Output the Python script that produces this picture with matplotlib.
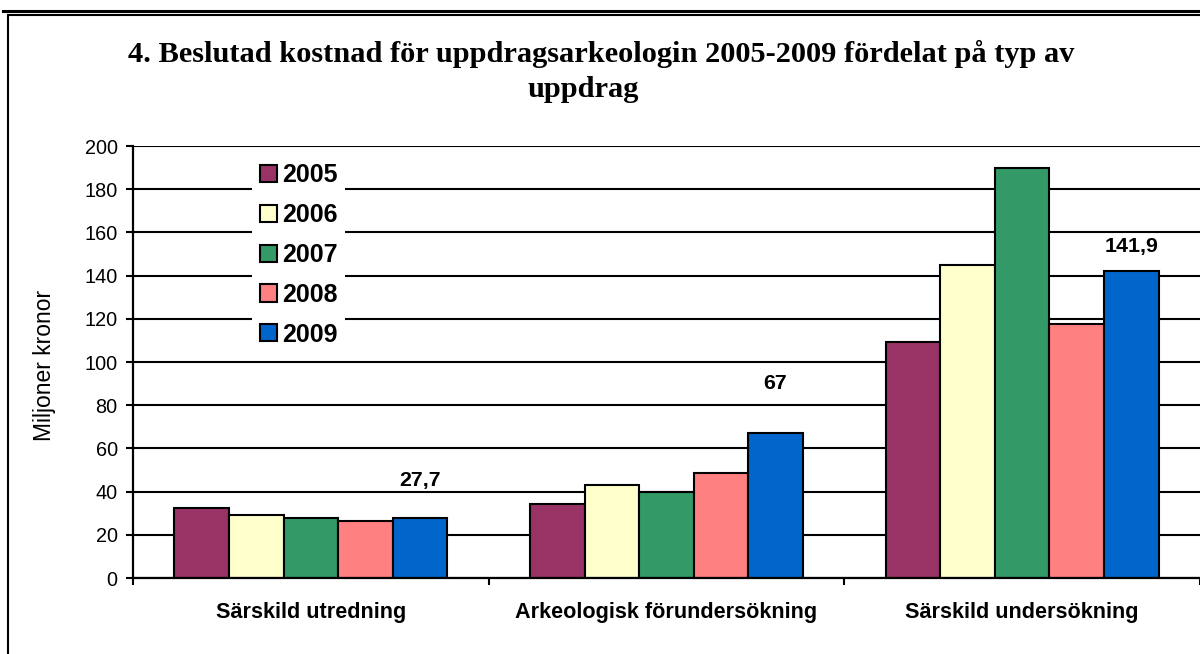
import matplotlib
matplotlib.use("Agg")
import matplotlib.pyplot as plt
from matplotlib.lines import Line2D
import numpy as np

# Data
categories = ["Särskild utredning", "Arkeologisk förundersökning", "Särskild undersökning"]
years = ["2005", "2006", "2007", "2008", "2009"]
v2005 = [32.3, 34.1, 109.1]
v2006 = [29.2, 43.0, 145.0]
v2007 = [27.8, 40.0, 190.0]
v2008 = [26.6, 48.5, 117.4]
v2009 = [27.7, 67.0, 141.9]
label_texts = ["27,7", "67", "141,9"]  # labels on the 2009 bars

title_lines = ["4. Beslutad kostnad för uppdragsarkeologin 2005-2009 fördelat på typ av",
               "uppdrag"]
ylabel = "Miljoner kronor"

colors = ["#993366", "#FFFFCC", "#339966", "#FF8080", "#0066CC"]
label_offsets = [27, 36, 18]  # points above the bar top

sans = ["Liberation Sans", "DejaVu Sans"]
serif = ["Liberation Serif", "DejaVu Serif"]

fig = plt.figure(figsize=(12, 6.54), dpi=100)
ax = fig.add_axes([133 / 1200, 1 - 578 / 654, 1 - 133 / 1200, (578 - 146) / 654])

series = [v2005, v2006, v2007, v2008, v2009]
n = len(series)
bw = 0.767 / n
x = np.arange(len(categories))
bars_last = None
for i, (vals, c, yr) in enumerate(zip(series, colors, years)):
    pos = x - 0.767 / 2 + bw * (i + 0.5)
    bars_last = ax.bar(pos, vals, width=bw, color=c, edgecolor="black",
                       linewidth=1.5, label=yr, zorder=3)

# data labels on 2009 bars
for rect, txt, off in zip(bars_last, label_texts, label_offsets):
    ax.annotate(txt, (rect.get_x() + rect.get_width() / 2, rect.get_height()),
                xytext=(0, off), textcoords="offset points", ha="center", va="center",
                fontsize=15.4, fontweight="bold", family=sans, zorder=5)

ax.set_xlim(-0.5, 2.5)
ax.set_ylim(0, 200)
ax.set_yticks(np.arange(0, 201, 20))
ax.yaxis.grid(True, color="black", linewidth=1.5, zorder=0)
ax.set_axisbelow(True)

for s in ["top", "right"]:
    ax.spines[s].set_visible(False)
for s in ["left", "bottom"]:
    ax.spines[s].set_linewidth(1.6)
    ax.spines[s].set_zorder(4)

ax.tick_params(axis="y", direction="out", length=5, width=1.5, pad=6, labelsize=14.3)
for t in ax.get_yticklabels():
    t.set_fontfamily(sans)

ax.set_xticks(x)
ax.set_xticklabels(categories, fontsize=15.6, fontweight="bold", family=sans)
ax.tick_params(axis="x", which="major", length=0, pad=17)
ax.set_xticks([-0.5, 0.5, 1.5, 2.5], minor=True)
ax.tick_params(axis="x", which="minor", direction="out", length=5, width=1.5)

fig.text(45 / 1200, 1 - 365 / 654, ylabel, rotation=90, ha="center", va="center",
         fontsize=16.5, family=sans)

fig.text(601 / 1200, 1 - 62 / 654, title_lines[0], ha="center", va="baseline",
         fontsize=21.9, fontweight="bold", family=serif)
fig.text(583 / 1200, 1 - 97 / 654, title_lines[1], ha="center", va="baseline",
         fontsize=21.9, fontweight="bold", family=serif)

leg = ax.legend(loc="upper left", bbox_to_anchor=((252 - 133) / 1067, (578 - 156) / 432),
                frameon=True, fancybox=False, framealpha=1, facecolor="white",
                edgecolor="none", handlelength=0.68, handleheight=0.68,
                handletextpad=0.22, labelspacing=0.63, borderpad=0.3,
                borderaxespad=0, prop={"family": sans, "weight": "bold", "size": 18})
leg.set_zorder(6)
for h in leg.legend_handles:
    h.set_linewidth(1.5)

# chart frame (double line on top, single line on the left)
fig.add_artist(Line2D([3 / 1200, 1], [1 - 11.3 / 654] * 2, color="black", linewidth=2.2,
                      transform=fig.transFigure))
fig.add_artist(Line2D([8 / 1200, 1], [1 - 15 / 654] * 2, color="black", linewidth=1.5,
                      transform=fig.transFigure))
fig.add_artist(Line2D([8 / 1200, 8 / 1200], [1 - 15 / 654, 0], color="black", linewidth=1.5,
                      transform=fig.transFigure))

fig.savefig("out.png", dpi=100)
